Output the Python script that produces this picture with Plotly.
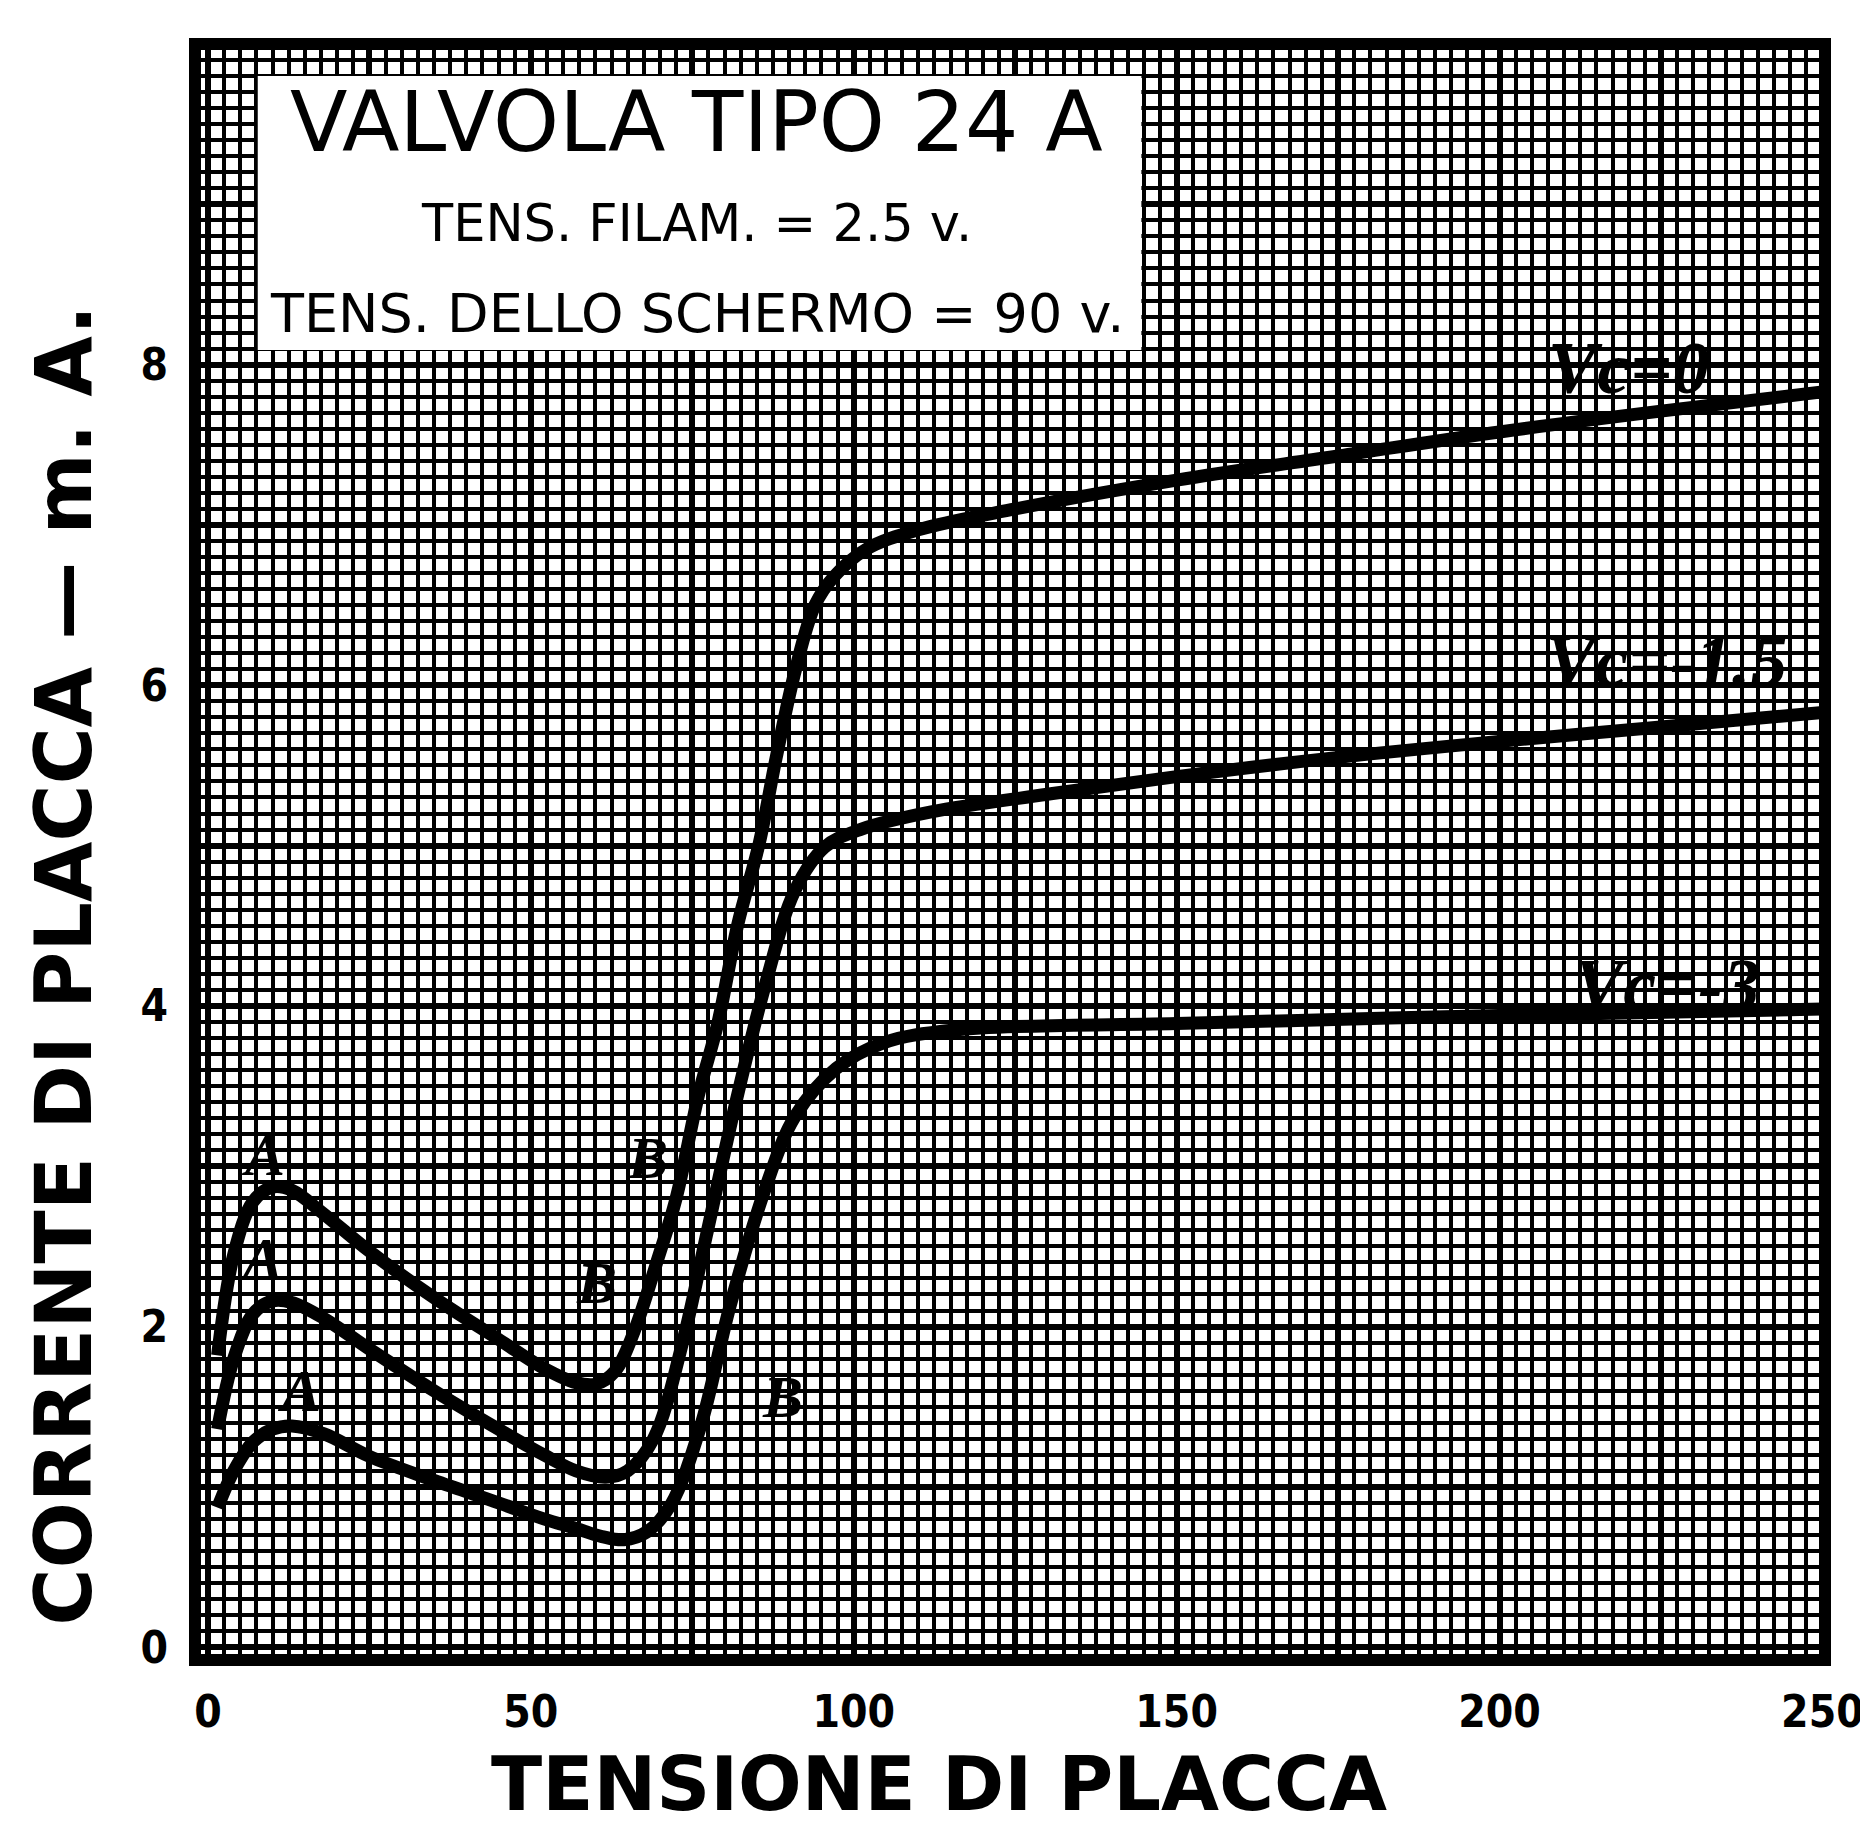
import plotly.graph_objects as go

# ---- data ----
vg0_x = [1.5, 4, 7, 10, 13, 18, 25, 35, 45, 52, 57, 60, 63, 66, 69.5, 72.5, 76, 79, 82, 85.4, 88, 91, 94, 97, 102, 110, 125, 150, 175, 200, 225, 250]
vg0_y = [1.82, 2.45, 2.78, 2.87, 2.85, 2.7, 2.47, 2.18, 1.92, 1.74, 1.65, 1.64, 1.72, 1.97, 2.4, 2.8, 3.45, 3.9, 4.5, 5.02, 5.55, 6.1, 6.5, 6.68, 6.85, 6.97, 7.1, 7.28, 7.43, 7.58, 7.71, 7.83]

vg15_x = [1.5, 4, 7, 10, 13, 18, 25, 35, 45, 52, 57, 61.6, 65, 69, 73.5, 77.2, 81.7, 86.3, 90.9, 95.5, 101, 112, 130, 150, 175, 200, 225, 250]
vg15_y = [1.36, 1.8, 2.08, 2.16, 2.15, 2.05, 1.86, 1.6, 1.36, 1.2, 1.1, 1.06, 1.1, 1.3, 1.9, 2.57, 3.39, 4.13, 4.72, 4.99, 5.1, 5.21, 5.32, 5.43, 5.55, 5.65, 5.74, 5.83]

vg3_x = [1.5, 4, 7, 10, 13, 18, 25, 35, 45, 52, 57, 61, 64.4, 68, 71.7, 76.3, 80.8, 86.3, 90.9, 97.3, 104.6, 115.6, 150, 200, 250]
vg3_y = [0.87, 1.1, 1.28, 1.36, 1.38, 1.33, 1.19, 1.04, 0.9, 0.8, 0.74, 0.69, 0.67, 0.72, 0.89, 1.38, 2.12, 2.86, 3.31, 3.61, 3.77, 3.85, 3.89, 3.94, 3.98]

x_tick_vals = [0, 25, 50, 75, 100, 125, 150, 175, 200, 225, 250]
x_tick_text = ["0", "", "50", "", "100", "", "150", "", "200", "", "250"]
y_tick_vals = [0, 1, 2, 3, 4, 5, 6, 7, 8, 9, 10]
y_tick_text = ["0", "", "2", "", "4", "", "6", "", "8", "", ""]

curve_labels = ["Vc=0", "Vc=-1.5", "Vc=-3"]
curve_label_x = [220, 226, 226]
curve_label_y = [7.98, 6.15, 4.13]

point_labels = ["A", "A", "A", "B", "B", "B"]
point_label_x = [8.6, 8.2, 14.1, 68, 60.2, 89]
point_label_y = [3.07, 2.42, 1.6, 3.05, 2.27, 1.56]

title_lines = ["VALVOLA TIPO 24 A", "TENS. FILAM. = 2.5 v.", "TENS. DELLO SCHERMO = 90 v."]

# ---- figure ----
fig = go.Figure()
for xs, ys in [(vg0_x, vg0_y), (vg15_x, vg15_y), (vg3_x, vg3_y)]:
    fig.add_trace(go.Scatter(x=xs, y=ys, mode="lines",
                             line=dict(color="black", width=13, shape="spline", smoothing=1.0),
                             showlegend=False, hoverinfo="skip", cliponaxis=False))

tick_font = dict(family="Liberation Sans Narrow, DejaVu Sans Condensed, sans-serif", size=44, color="black", weight="bold")

fig.update_layout(
    width=1868, height=1829,
    margin=dict(l=187, r=43, t=36, b=177),
    paper_bgcolor="white", plot_bgcolor="white",
    showlegend=False,
    xaxis=dict(range=[-2, 250.4], tickmode="array", tickvals=x_tick_vals, ticktext=x_tick_text,
               showgrid=True, gridcolor="black", gridwidth=6, zeroline=False,
               showline=False, ticks="", tickfont=tick_font, ticklabelstandoff=22,
               minor=dict(tickmode="linear", tick0=0, dtick=2.5, showgrid=True,
                          gridcolor="black", gridwidth=4)),
    yaxis=dict(range=[-0.08, 10.0], tickmode="array", tickvals=y_tick_vals, ticktext=y_tick_text,
               showgrid=True, gridcolor="black", gridwidth=6, zeroline=False,
               showline=False, ticks="", tickfont=tick_font, ticklabelstandoff=26,
               minor=dict(tickmode="linear", tick0=0, dtick=0.1, showgrid=True,
                          gridcolor="black", gridwidth=4)),
)

# white title box
fig.add_shape(type="rect", xref="paper", yref="paper", x0=0.0385, x1=0.5806, y0=0.8106, y1=0.9802,
              fillcolor="white", line=dict(width=0), layer="above")
# heavy frame
fig.add_shape(type="rect", xref="paper", yref="paper", x0=0, x1=1, y0=0, y1=1,
              line=dict(color="black", width=12), layer="above")

title_font = "DejaVu Sans, sans-serif"
fig.add_annotation(text=title_lines[0], xref="paper", yref="paper", x=0.3077, y=0.952,
                   xanchor="center", yanchor="middle",
                   showarrow=False, font=dict(family=title_font, size=84, color="black"))
fig.add_annotation(text=title_lines[1], xref="paper", yref="paper", x=0.3077, y=0.889,
                   xanchor="center", yanchor="middle",
                   showarrow=False, font=dict(family=title_font, size=51, color="black"))
fig.add_annotation(text=title_lines[2], xref="paper", yref="paper", x=0.3077, y=0.833,
                   xanchor="center", yanchor="middle",
                   showarrow=False, font=dict(family=title_font, size=54, color="black"))

# axis titles
fig.add_annotation(text="TENSIONE DI PLACCA", xref="paper", yref="paper", x=0.4567, y=-0.077,
                   xanchor="center", yanchor="middle",
                   showarrow=False, font=dict(family=title_font, size=75, color="black", weight="bold"))
fig.add_annotation(text="CORRENTE DI PLACCA — m. A.", xref="paper", yref="paper", x=-0.08, y=0.43,
                   xanchor="center", yanchor="middle", textangle=-90, showarrow=False,
                   font=dict(family=title_font, size=78, color="black", weight="bold"))

# curve labels
hand_font = dict(family="Liberation Serif, DejaVu Serif, serif", size=74, color="black", weight="bold", style="italic")
for t, xx, yy in zip(curve_labels, curve_label_x, curve_label_y):
    fig.add_annotation(text=t, x=xx, y=yy, showarrow=False, font=hand_font,
                       xanchor="center", yanchor="middle")

pt_font = dict(family="Liberation Serif, DejaVu Serif, serif", size=60, color="black", weight="bold", style="italic")
for t, xx, yy in zip(point_labels, point_label_x, point_label_y):
    fig.add_annotation(text=t, x=xx, y=yy, showarrow=False, font=pt_font,
                       xanchor="center", yanchor="middle")

fig.write_html("out.html")
